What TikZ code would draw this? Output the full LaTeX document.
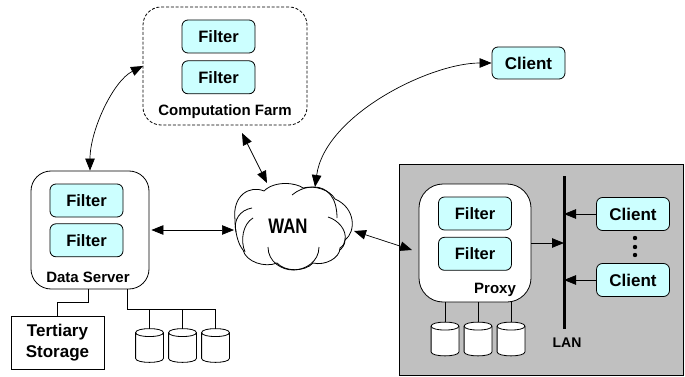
\documentclass[tikz,border=0pt]{standalone}
\usepackage{fontspec}
\setmainfont{Liberation Sans}
\usetikzlibrary{arrows.meta,calc,positioning}
\definecolor{filtercyan}{HTML}{CCFFFF}
\definecolor{lanegray}{HTML}{C0C0C0}
\newcommand{\drawdisk}[3]{
    \node[diskbox] (#1) at (#2,#3) {};
    \draw[fill=white] ($(#1.north west)+(0,4)$) .. controls +(0,-5.3) and +(0,-5.3) .. ($(#1.north east)+(0,4)$)
        -- ($(#1.south east)+(0,-4)$) .. controls +(0,5.3) and +(0,5.3) .. ($(#1.south west)+(0,-4)$) -- cycle;
    \draw ($(#1.north west)+(0,4)$) .. controls +(0,5.3) and +(0,5.3) .. ($(#1.north east)+(0,4)$);
}
\begin{document}
\begin{tikzpicture}[x=1pt,y=-1pt,line width=0.8pt,>={Triangle[length=12pt,width=9.5pt]},
                    filter/.style={draw,rounded corners=6pt,fill=filtercyan,minimum width=73pt,minimum height=33pt,inner sep=0pt,font=\fontsize{16.5}{18}\bfseries},
                    host/.style={draw,fill=white,rounded corners=20pt,inner sep=0pt},
                    diskbox/.style={minimum width=27pt,minimum height=33pt,inner sep=0pt},
                    host label/.style={font=\fontsize{15}{17}\bfseries,inner sep=0pt},
                    link/.style={<->,line width=0.7pt}]
    \useasboundingbox (0,0) rectangle (685,377);
    % proxy site
    \node[draw,fill=lanegray,minimum width=284pt,minimum height=211pt,inner sep=0pt] (site) at (541.5,269.5) {};
    % computation farm
    \node[host,dash pattern=on 3pt off 1.8pt,rounded corners=18pt,minimum width=164pt,minimum height=118pt] (farm) at (225,66) {};
    \node[filter] (farm filter a) at (218.5,36.5) {Filter};
    \node[filter,below=7pt of farm filter a] (farm filter b) {Filter};
    \node[host label] (farm label) at (225,112) {Computation Farm};
    % data server
    \node[host,minimum width=118pt,minimum height=118pt] (server) at (90,230) {};
    \node[filter] (server filter a) at (86.5,200.5) {Filter};
    \node[filter,below=6pt of server filter a] (server filter b) {Filter};
    \node[host label] (server label) at (88,277) {Data Server};
    \node[draw,minimum width=93pt,minimum height=53pt,inner sep=0pt,align=center,font=\fontsize{17}{21}\bfseries] (tertiary) at (57.5,342.5) {Tertiary\\Storage};
    \drawdisk{server disk a}{149.5}{345.5}
    \drawdisk{server disk b}{182.5}{345.5}
    \drawdisk{server disk c}{215.5}{345.5}
    \draw ([xshift=-2pt]server.south) -- ++(0,13) -| (tertiary.north);
    \draw ([xshift=37pt]server.south) -- ++(0,20) -| (server disk c.north);
    \coordinate (server bus) at (150,309);
    \draw (server disk a.north) -- (server disk a.north |- server bus);
    \draw (server disk b.north) -- (server disk b.north |- server bus);
    % wan cloud
    \draw[fill=white] (264,191) .. controls (250,185) and (232,195) .. (235,220)
        .. controls (235,232) and (238,244) .. (243,250)
        .. controls (246,262) and (265,268) .. (277,263)
        .. controls (285,272) and (305,272) .. (313,263)
        .. controls (325,266) and (340,258) .. (340,248)
        .. controls (343,246) and (345,243) .. (345,240)
        .. controls (356,232) and (356,208) .. (335,199)
        .. controls (330,190) and (315,185) .. (303,188)
        .. controls (297,183) and (275,180) .. (264,191) -- cycle;
    \draw (252,208) .. controls (240,210) and (233,220) .. (236,232);
    \draw (253,218) .. controls (243,224) and (240,240) .. (245,252);
    \draw (268,247) .. controls (268,262) and (282,270) .. (293,270) .. controls (305,270) and (319,262) .. (319,247);
    \draw (292,195) .. controls (298,190) and (305,187) .. (314,187) .. controls (327,187) and (337,197) .. (337,218);
    \draw (328,217) .. controls (338,220) and (347,230) .. (345,240) .. controls (345,245) and (342,248) .. (340,250);
    \node[inner sep=0pt,font=\fontsize{21}{23}\bfseries] (wan) at (288,226) {\scalebox{0.8}[1]{WAN}};
    \coordinate (wan west) at (234,230);
    \coordinate (wan north) at (267,183);
    \coordinate (wan top) at (315,187);
    \coordinate (wan east) at (354,231);
    % client
    \node[filter,minimum width=73pt,minimum height=32pt,font=\fontsize{17}{19}\bfseries] (client) at (528.5,63) {Client};
    % proxy
    \node[host,rounded corners=24pt,minimum width=112pt,minimum height=118pt] (proxy) at (475,243) {};
    \node[filter] (proxy filter a) at (475,213.5) {Filter};
    \node[filter,below=6.5pt of proxy filter a] (proxy filter b) {Filter};
    \node[host label,font=\fontsize{15}{17}\bfseries] (proxy label) at (495,290) {Proxy};
    \drawdisk{proxy disk a}{445}{339}
    \drawdisk{proxy disk b}{478}{339}
    \drawdisk{proxy disk c}{511}{339}
    \draw (proxy disk a.north) -- (proxy disk a.north |- proxy.south);
    \draw (proxy disk b.north) -- (proxy disk b.north |- proxy.south);
    \draw (proxy disk c.north) -- (proxy disk c.north |- proxy.south);
    % lan
    \coordinate (lan top) at (564,176);
    \coordinate (lan end) at (564,329);
    \draw[line width=3pt] (lan top) -- (lan end);
    \node[inner sep=0pt,font=\fontsize{14}{16}\bfseries] (lan label) at (567,343) {LAN};
    \node[filter,minimum width=73pt,minimum height=33pt,font=\fontsize{17}{19}\bfseries] (client a) at (633,214) {Client};
    \node[filter,minimum width=73pt,minimum height=33pt,font=\fontsize{17}{19}\bfseries] (client b) at (633,280) {Client};
    \foreach \doty in {238,247,255}
        \fill (635,\doty) circle (2.2pt);
    \draw[->] (client a.west) -- (client a.west -| lan top);
    \draw[->] (client b.west) -- (client b.west -| lan top);
    \draw[->] (proxy.east) -- (proxy.east -| lan top);
    % wide area links
    \coordinate (farm side) at (143,66);
    \coordinate (farm foot) at (242,133);
    \coordinate (proxy side) at (412,250);
    \draw[link] (farm side) .. controls +(-30,15) and +(0,-40) .. (server.north);
    \draw[link] (farm foot) -- (wan north);
    \draw[link] (client.west) .. controls (430,63) and (325,115) .. (wan top);
    \draw[link] ([xshift=2pt]server.east) -- (wan west);
    \draw[link] (wan east) -- (proxy side);
\end{tikzpicture}
\end{document}
